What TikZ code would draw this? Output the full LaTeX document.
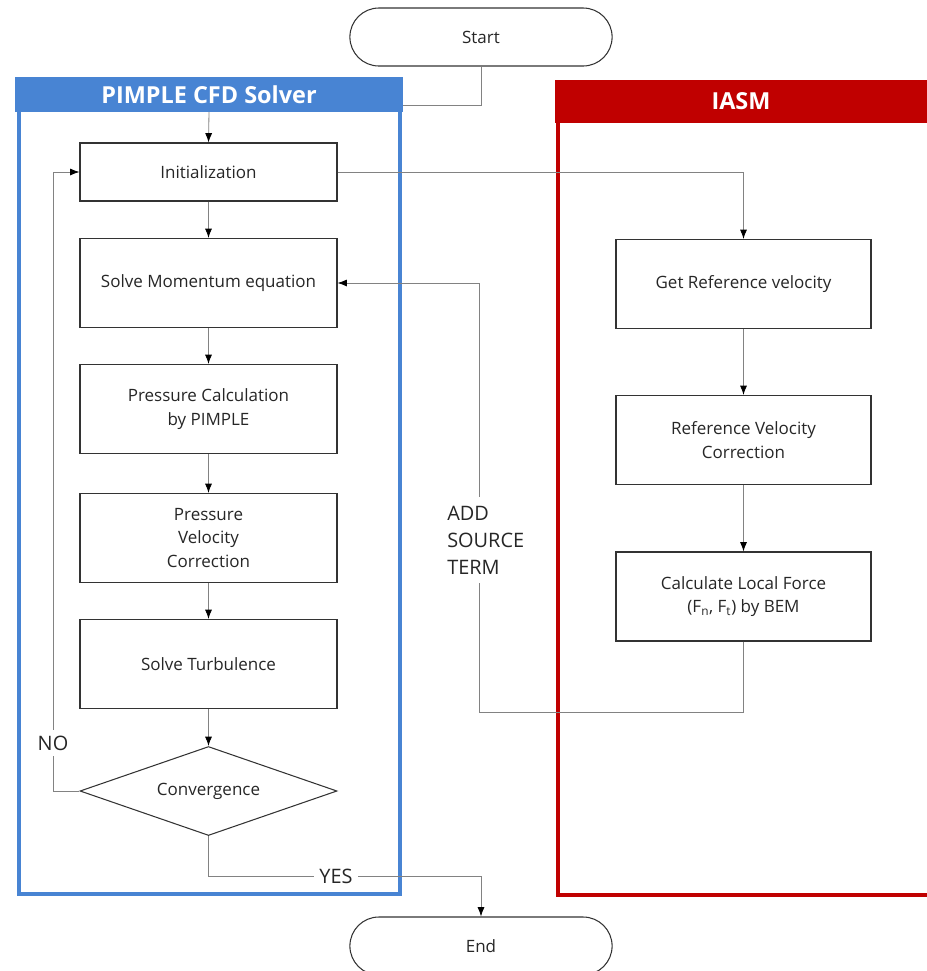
\documentclass[tikz,border=0pt]{standalone}
\usepackage{fontspec}
\setmainfont{Open Sans}
\usetikzlibrary{shapes.geometric,shapes.misc,arrows.meta}
\definecolor{pimpleblue}{RGB}{72,132,211}
\definecolor{iasmred}{RGB}{192,0,0}
\definecolor{flowgray}{RGB}{130,130,130}
\tikzset{
	stepbox/.style = {draw=black!80, line width=0.9pt, text=black!85, align=center, minimum height=2.67cm, inner sep=0pt, font=\fontsize{14.5}{20}\selectfont},
	solverbox/.style = {stepbox, minimum width=7.71cm},
	iasmbox/.style = {stepbox, minimum width=7.65cm},
	terminal/.style = {rounded rectangle, draw=black!80, line width=0.9pt, minimum width=8.1cm, minimum height=1.74cm, text=black!85, font=\fontsize{14.5}{17}\selectfont},
	decision/.style = {diamond, aspect=2.9, draw=black!80, line width=0.9pt, minimum width=7.71cm, minimum height=2.67cm, inner sep=0pt, text=black!85, font=\fontsize{14.5}{17}\selectfont},
	headbar/.style = {text=white, inner sep=0pt, font=\fontsize{20}{24}\selectfont\bfseries},
	flow/.style = {draw=flowgray, line width=0.7pt},
	flowarrow/.style = {flow, -{Latex[length=8pt,width=6pt,color=black]}},
	flowlabel/.style = {fill=white, text=black!85, align=left, font=\fontsize{17}{23}\selectfont}
}
\begin{document}
\begin{tikzpicture}[x = 0.03cm, y = -0.03cm]
		\clip (0,0) rectangle (927,971);
		\draw[pimpleblue, line width=4.2pt] (19,100) rectangle (400,894);
		\draw[iasmred, line width=4.2pt] (558,110) rectangle (960,895);
		\node [headbar, fill=pimpleblue, minimum width=11.64cm, minimum height=1.05cm] (pimple) at (209,94.5) {PIMPLE CFD Solver};
		\node [headbar, fill=iasmred, minimum width=11.16cm, minimum height=1.29cm] (iasm) at (741,101.5) {IASM};

		\node [terminal] (start) at (481,37) {Start};
		\node [terminal] (finish) at (481,946) {End};

		\node [solverbox, minimum height=1.74cm] (init) at (208.5,172) {Initialization};
		\node [solverbox] (momentum) at (208.5,283) {Solve Momentum equation};
		\node [solverbox] (pressure) at (208.5,409) {Pressure Calculation\\by PIMPLE};
		\node [solverbox] (correction) at (208.5,538) {Pressure\\Velocity\\Correction};
		\node [solverbox] (turbulence) at (208.5,664) {Solve Turbulence};
		\node [decision] (converge) at (208.5,791) {Convergence};

		\node [iasmbox] (refvel) at (743.5,284) {Get Reference velocity};
		\node [iasmbox] (refcorr) at (743.5,440) {Reference Velocity\\Correction};
		\node [iasmbox] (force) at (743.5,596.5) {Calculate Local Force\\(F\textsubscript{n}, F\textsubscript{t}) by BEM};

		\coordinate (headjoin) at (403,105);
		\coordinate (noturn) at (53,791);
		\coordinate (yesturn) at (481,876);
		\coordinate (returnturn) at (479,712);

		\draw[flow] (start.south) |- (headjoin);
		\draw[flowarrow] (pimple.south) -- (init.north);
		\draw[flowarrow] (init) -- (momentum);
		\draw[flowarrow] (momentum) -- (pressure);
		\draw[flowarrow] (pressure) -- (correction);
		\draw[flowarrow] (correction) -- (turbulence);
		\draw[flowarrow] (turbulence) -- (converge);
		\draw[flowarrow] (converge.west) -- (noturn) |- (init.west);
		\draw[flowarrow] (converge.south) |- (yesturn) -- (finish.north);
		\draw[flowarrow] (init.east) -| (refvel.north);
		\draw[flowarrow] (refvel) -- (refcorr);
		\draw[flowarrow] (refcorr) -- (force);
		\draw[flowarrow] (force.south) |- (returnturn) |- (momentum.east);

		\node [flowlabel, inner sep=5pt] (nolabel) at (53,743) {NO};
		\node [flowlabel, inner sep=5pt] (yeslabel) at (336,876) {YES};
		\node [flowlabel, anchor=west, inner xsep=12pt, inner ysep=8pt] (sourcelabel) at (433,540) {ADD\\SOURCE\\TERM};
	\end{tikzpicture}
\end{document}
